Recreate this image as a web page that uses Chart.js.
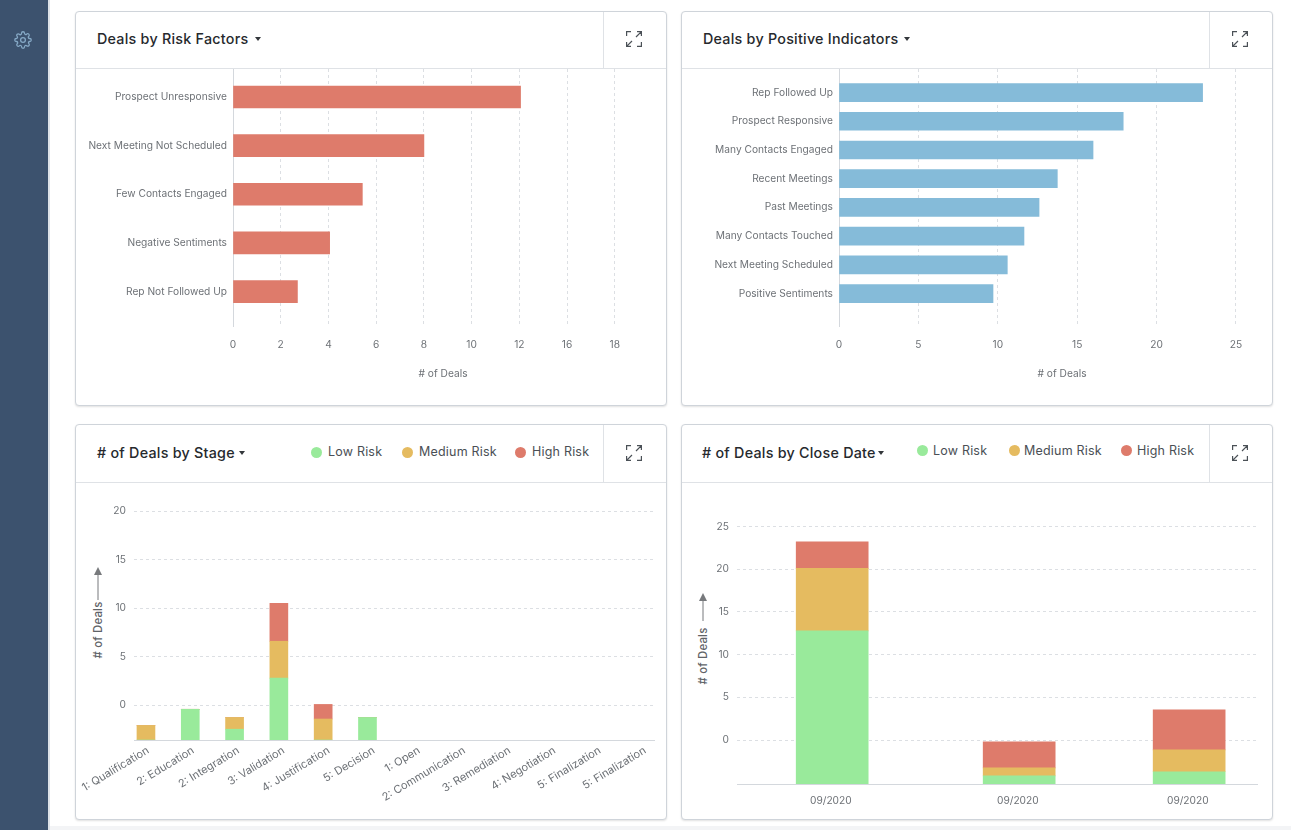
<!DOCTYPE html>
<html><head><meta charset="utf-8">
<script src="https://cdn.jsdelivr.net/npm/chart.js@4/dist/chart.umd.min.js"></script>
<style>
html,body{margin:0;padding:0;width:1291px;height:830px;overflow:hidden;background:#fff;font-family:Inter,sans-serif}
#side{position:absolute;left:0;top:0;width:48px;height:830px;background:#3c526e;border-right:2px solid #dde2e8}
#foot{position:absolute;left:50px;top:826px;right:0;height:4px;background:#f3f4f6}
.card{position:absolute;box-sizing:border-box;background:#fff;border:1px solid #cfd4da;border-radius:4px;box-shadow:0 1px 2px rgba(0,0,0,.12)}
.hline{position:absolute;left:0;right:0;height:1px;background:#dfe2e6}
.vline{position:absolute;width:1px;background:#dfe2e6;top:0}
.title{position:absolute;font-size:14.3px;font-weight:500;color:#26292d;white-space:nowrap;letter-spacing:.25px}
.caret{position:absolute;width:0;height:0;border-left:3.5px solid transparent;border-right:3.5px solid transparent;border-top:4px solid #33373b}
.legend{position:absolute;font-size:12.5px;color:#4a4f55;white-space:nowrap;letter-spacing:.2px}
.dot{position:absolute;width:11px;height:11px;border-radius:50%}
.ylab{position:absolute;font-size:11.4px;font-weight:500;color:#5f6367;white-space:nowrap;transform:translate(-50%,-50%) rotate(-90deg);letter-spacing:.2px}
svg.abs{position:absolute;overflow:visible}
canvas{position:absolute}
</style></head><body>
<div id="side"><svg class="abs" style="left:14px;top:31px" width="18" height="18" viewBox="0 0 24 24" fill="none" stroke="#86a9c6" stroke-width="1.7" stroke-linejoin="round"><circle cx="12" cy="12" r="3.2"/><path d="M19.4 15a1.65 1.65 0 0 0 .33 1.82l.06.06a2 2 0 1 1-2.83 2.83l-.06-.06a1.65 1.65 0 0 0-2.82 1.17V21a2 2 0 1 1-4 0v-.09A1.65 1.65 0 0 0 7.2 19.74l-.06.06a2 2 0 1 1-2.83-2.83l.06-.06A1.65 1.65 0 0 0 3.2 14H3a2 2 0 1 1 0-4h.09A1.65 1.65 0 0 0 4.26 7.2l-.06-.06a2 2 0 1 1 2.83-2.83l.06.06A1.65 1.65 0 0 0 10 3.2V3a2 2 0 1 1 4 0v.09a1.65 1.65 0 0 0 2.8 1.17l.06-.06a2 2 0 1 1 2.83 2.83l-.06.06A1.65 1.65 0 0 0 20.8 10H21a2 2 0 1 1 0 4h-.09a1.65 1.65 0 0 0-1.51 1z"/></svg></div>
<div id="foot"></div>
<script>
/* ---------- data ---------- */
const RED='#de7b6b', BLUE='#85bbd9', GREEN='#99ea9b', AMBER='#e5bb60';
const legendNames=['Low Risk','Medium Risk','High Risk'];

const riskLabels=['Prospect Unresponsive','Next Meeting Not Scheduled','Few Contacts Engaged','Negative Sentiments','Rep Not Followed Up'];
const riskValues=[12.05,8,5.42,4.05,2.7];
const riskTickLabels=['0','2','4','6','8','10','12','16','18'];

const posLabels=['Rep Followed Up','Prospect Responsive','Many Contacts Engaged','Recent Meetings','Past Meetings','Many Contacts Touched','Next Meeting Scheduled','Positive Sentiments'];
const posValues=[22.9,17.9,16,13.75,12.6,11.65,10.6,9.7];
const posTicks=[0,5,10,15,20,25];

const stageLabels=['1: Qualification','2: Education','2: Integration','3: Validation','4: Justification','5: Decision','1: Open','2: Communication','3: Remediation','4: Negotiation','5: Finalization','5: Finalization'];
const stageFloor=-3.56;              /* axis value at the baseline */
const stageLowTop =[-3.56,-0.4,-2.45,2.8,-3.56,-1.24];
const stageMedTop =[-2.06,-0.4,-1.24,6.6,-1.4,-1.24];
const stageHighTop=[-2.06,-0.4,-1.24,10.5,0.1,-1.24];
const stageTicks=[0,5,10,15,20];

const closeLabels=['09/2020','09/2020','09/2020'];
const closeDays=[4,15,25];
const closeFloor=-5.13;
const closeLowTop =[12.78,-4.18,-3.7];
const closeMedTop =[20.1,-3.24,-1.14];
const closeHighTop=[23.2,-0.2,3.54];
const closeTicks=[0,5,10,15,20,25];

/* ---------- page furniture ---------- */
function el(cls,style,text){const d=document.createElement('div');d.className=cls;d.style.cssText=style;if(text)d.textContent=text;document.body.appendChild(d);return d;}
function expand(x,y){
  const s=`<svg class="abs" style="left:${x-8}px;top:${y-8}px" width="16" height="16" viewBox="0 0 16 16" fill="none" stroke="#4b5157" stroke-width="1.2"><path d="M.6 5V.6H5M15.4 11v4.4H11M11 .6h4.4V5M15.4.6L10 6M.6 11v4.4H5M.6 15.4L6 10"/></svg>`;
  document.body.insertAdjacentHTML('beforeend',s);
}
function card(x,y,w,h,title,tx,cx,hy,hh){
  const c=el('card',`left:${x}px;top:${y}px;width:${w}px;height:${h}px`);
  c.appendChild(el('hline',`top:${hh}px`));
  c.appendChild(el('vline',`left:${w-65}px;height:${hh}px`));
  el('title',`left:${tx}px;top:${hy-9}px`,title);
  el('caret',`left:${cx}px;top:${hy-2}px`);
  expand(x+w-33,hy);
}
card(75,11,592,395,'Deals by Risk Factors',97,255,39,56);
card(681,11,592,395,'Deals by Positive Indicators',703,904,39,56);
card(75,424,592,396,'# of Deals by Stage',97,239,453,57);
card(681,424,592,396,'# of Deals by Close Date',702,878,453,57);
[[316.5,328],[407.5,419],[520,532]].forEach((p,i)=>{
  el('dot',`left:${p[0]-5.5}px;top:446.5px;background:${[GREEN,AMBER,RED][i]}`);
  el('legend',`left:${p[1]}px;top:444px`,legendNames[i]);
});
[[922,933],[1014,1024],[1126,1137]].forEach((p,i)=>{
  el('dot',`left:${p[0]-5.5}px;top:445px;background:${[GREEN,AMBER,RED][i]}`);
  el('legend',`left:${p[1]}px;top:442.5px`,legendNames[i]);
});
function yLabel(x,y,ay1,ay2){
  el('ylab',`left:${x}px;top:${y}px`,'# of Deals');
  document.body.insertAdjacentHTML('beforeend',`<svg class="abs" style="left:${x-5}px;top:${ay2}px" width="10" height="${ay1-ay2}"><line x1="5" x2="5" y1="6" y2="${ay1-ay2}" stroke="#77797c" stroke-width="1"/><path d="M1 8L5 0L9 8Z" fill="#77797c"/></svg>`);
}
yLabel(98,630,600,567);
yLabel(702.5,656,621,593);

/* ---------- charts ---------- */
const TICK={family:'Inter',size:10.2};
const GREY='#6d7176', GRID='#dcdfe3', AXIS='#d4d8dd';
Chart.defaults.animation=false;
Chart.defaults.events=[];
function canvas(x,y,w,h){const c=document.createElement('canvas');c.width=w;c.height=h;c.style.cssText=`left:${x}px;top:${y}px;width:${w}px;height:${h}px`;document.body.appendChild(c);return c;}
const fitW=n=>s=>{s.width=n;s.paddingTop=s.paddingBottom=0;};
const fitH=n=>s=>{s.height=n;s.paddingLeft=s.paddingRight=0;};
const setTicks=vals=>s=>{s.ticks=vals.map(v=>({value:v}));};
const idx=a=>a.map((_,i)=>i);

function hbar(box,labels,values,color,thick,tickVals,tickText,xMax,yMin,yMax,yW){
  new Chart(canvas(...box),{type:'bar',data:{datasets:[{data:values.map((v,i)=>({x:v,y:i})),backgroundColor:color,barThickness:thick}]},
   options:{indexAxis:'y',responsive:false,layout:{padding:0},plugins:{legend:{display:false},tooltip:{enabled:false}},
    scales:{
     x:{type:'linear',bounds:'data',position:'bottom',min:0,max:xMax,afterBuildTicks:setTicks(tickVals),afterFit:fitH(79),
        grid:{color:GRID,drawTicks:false,lineWidth:1},border:{display:false,dash:[3,3]},
        ticks:{autoSkip:false,maxRotation:0,padding:13,color:GREY,font:TICK,callback:(v,i)=>tickText[i]},
        title:{display:true,text:'# of Deals',color:GREY,font:TICK,padding:{top:14,bottom:25}}},
     y:{type:'linear',bounds:'data',offset:false,reverse:true,min:yMin,max:yMax,afterBuildTicks:setTicks(idx(labels)),afterFit:fitW(yW),
        grid:{display:false,drawTicks:false,offset:false},border:{display:true,color:AXIS},
        ticks:{autoSkip:false,padding:6,color:GREY,font:TICK,callback:(v,i)=>labels[i]}}
    }}});
}
hbar([76,69,577,336],riskLabels,riskValues,RED,22,[0,2,4,6,8,10,12,14,16],riskTickLabels,17.6,-0.575,4.708,157);
hbar([682,69,603,336],posLabels,posValues,BLUE,18,posTicks,posTicks.map(String),28.09,-0.82,8.13,157);

function stacked(box,xs,floor,low,med,high,thick,xB,xL,tickText,yTicks,yMax,yW,xH,padTop,rot){
  const seg=(bot,top,c,name)=>({label:name,xAxisID:'x',backgroundColor:c,barThickness:thick,grouped:false,
    data:xs.map((x,i)=>({x,y:[bot[i],top[i]]}))});
  const fl=xs.map(()=>floor);
  new Chart(canvas(...box),{type:'bar',data:{datasets:[seg(fl,low,GREEN,legendNames[0]),seg(low,med,AMBER,legendNames[1]),seg(med,high,RED,legendNames[2])]},
   options:{responsive:false,layout:{padding:{top:padTop}},plugins:{legend:{display:false},tooltip:{enabled:false}},
    scales:{
     x:{type:'linear',bounds:'data',offset:false,display:false,min:xB[0],max:xB[1]},
     x2:{type:'linear',bounds:'data',offset:false,axis:'x',position:'bottom',min:xL[0],max:xL[1],afterBuildTicks:setTicks(xL[2]),afterFit:fitH(xH),
        grid:{display:false,drawTicks:false,offset:false},border:{display:true,color:AXIS},
        ticks:{autoSkip:false,minRotation:rot,maxRotation:rot,padding:rot?4:11,color:GREY,font:{family:'Inter',size:rot?11:10.2},callback:(v,i)=>tickText[i]}},
     y:{type:'linear',bounds:'data',min:floor,max:yMax,afterBuildTicks:setTicks(yTicks),afterFit:fitW(yW),
        grid:{color:GRID,drawTicks:false},border:{display:false,dash:[3,3]},
        ticks:{autoSkip:false,padding:8,color:GREY,font:TICK,callback:v=>String(v)}}
    }}});
}
stacked([76,483,579,337],[0,1,2,3,4,5],stageFloor,stageLowTop,stageMedTop,stageHighTop,18,
  [-0.27,11.49],[-0.31,11.22,idx(stageLabels)],stageLabels,stageTicks,20,58,80,28,31);
stacked([682,483,576,337],closeDays,closeFloor,closeLowTop,closeMedTop,closeHighTop,72,
  [-1.6,29.05],[-1.52,29.13,closeDays],closeLabels,closeTicks,25,55,36,43.5,0);
</script></body></html>
